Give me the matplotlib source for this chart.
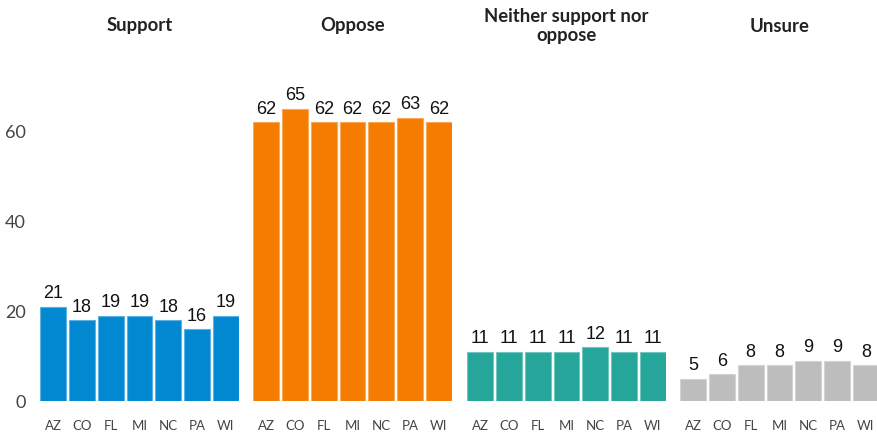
import matplotlib
matplotlib.use("Agg")
import matplotlib.pyplot as plt
import matplotlib.colors as mcolors
import numpy as np

states = ["AZ", "CO", "FL", "MI", "NC", "PA", "WI"]
titles = ["Support", "Oppose", "Neither support nor\noppose", "Unsure"]
support = [21, 18, 19, 19, 18, 16, 19]
oppose = [62, 65, 62, 62, 62, 63, 62]
neither = [11, 11, 11, 11, 12, 11, 11]
unsure = [5, 6, 8, 8, 9, 9, 8]
series = [support, oppose, neither, unsure]
colors = ["#0288D1", "#F57C00", "#26A69A", "#BDBDBD"]
yticks = [0, 20, 40, 60]

W, H = 877, 434
fig = plt.figure(figsize=(W / 100, H / 100), dpi=100)

panel_left = [40, 253, 467, 680]
panel_w = 199
ax_bottom = 401
ax_top = 77

def lighten(c, f=0.35):
    r, g, b = mcolors.to_rgb(c)
    return (r + (1 - r) * f, g + (1 - g) * f, b + (1 - b) * f)

for i, (vals, col, title) in enumerate(zip(series, colors, titles)):
    ax = fig.add_axes([panel_left[i] / W, 1 - ax_bottom / H, panel_w / W, (ax_bottom - ax_top) / H])
    x = np.arange(len(states))
    ax.bar(x, vals, width=0.9, color=col, edgecolor=lighten(col), linewidth=0.8)
    for xi, v in zip(x, vals):
        ax.annotate(str(v), (xi, v), xytext=(0, 3), textcoords="offset points",
                    ha="center", va="bottom", fontsize=13, family="Liberation Sans", color="#111111")
    ax.set_xlim(-0.46, 6.46)
    ax.set_ylim(0, 72)
    ax.set_xticks(x)
    ax.set_xticklabels(states, family="Lato", fontsize=9.5, color="#444444")
    ax.tick_params(axis="x", length=0, pad=14)
    if i == 0:
        ax.set_yticks(yticks)
        ax.set_yticklabels([str(t) for t in yticks], family="Lato", fontsize=13, color="#444444")
        ax.tick_params(axis="y", length=0, pad=10)
    else:
        ax.set_yticks([])
    for s in ax.spines.values():
        s.set_visible(False)
    fig.text((panel_left[i] + panel_w / 2) / W, 1 - 26 / H, title, ha="center", va="center",
             family="Lato", fontweight="bold", fontsize=13.3, color="#222222", linespacing=1.15)

fig.savefig("out.png", dpi=100)
